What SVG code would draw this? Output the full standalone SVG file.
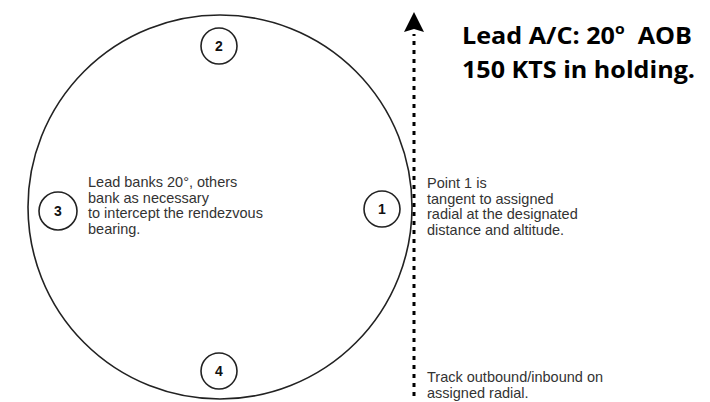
<svg xmlns="http://www.w3.org/2000/svg" width="710" height="402" viewBox="0 0 710 402">
<style>
.orbit{fill:none;stroke:#222;stroke-width:1.6}
.pt{fill:#fff;stroke:#222;stroke-width:1.6}
.num{font-family:"Liberation Sans",Arial,sans-serif;font-weight:bold;font-size:14px;fill:#111;text-anchor:middle}
.note{font-family:"Liberation Sans",Arial,sans-serif;font-size:14.5px;fill:#333}
.title{font-family:"Open Sans","Liberation Sans",sans-serif;font-weight:bold;font-size:24px;fill:#000}
.track{fill:none;stroke:#000;stroke-width:3;stroke-dasharray:4 5}
</style>
<rect width="710" height="402" fill="#fff"/>
<g id="orbit">
<circle class="orbit" cx="220" cy="207" r="192"/>
</g>
<g id="connectors">
<line class="track" x1="414" y1="396" x2="414" y2="34"/>
<path d="M414,12 L424,32 L414,29 L404,32 Z" fill="#000"/>
</g>
<g id="point2">
<circle class="pt" cx="219" cy="46" r="18"/>
<text class="num" x="219" y="51">2</text>
</g>
<g id="point3">
<circle class="pt" cx="58" cy="211" r="19"/>
<text class="num" x="58" y="216">3</text>
</g>
<g id="point1">
<circle class="pt" cx="382" cy="209" r="18"/>
<text class="num" x="382" y="214">1</text>
</g>
<g id="point4">
<circle class="pt" cx="219" cy="371" r="18"/>
<text class="num" x="219" y="376">4</text>
</g>
<g id="note-lead">
<text class="note" x="88" y="187">Lead banks 20°, others</text>
<text class="note" x="88" y="202.5">bank as necessary</text>
<text class="note" x="88" y="218">to intercept the rendezvous</text>
<text class="note" x="88" y="233.5">bearing.</text>
</g>
<g id="note-point1">
<text class="note" x="427" y="188">Point 1 is</text>
<text class="note" x="427" y="203.5">tangent to assigned</text>
<text class="note" x="427" y="219">radial at the designated</text>
<text class="note" x="427" y="234.5">distance and altitude.</text>
</g>
<g id="note-track">
<text class="note" x="427" y="381.5">Track outbound/inbound on</text>
<text class="note" x="427" y="397.5">assigned radial.</text>
</g>
<g id="title">
<text class="title" x="462" y="44" xml:space="preserve" textLength="230" lengthAdjust="spacingAndGlyphs">Lead A/C: 20<tspan font-size="15" dy="-10">o</tspan><tspan dy="10">  AOB</tspan></text>
<text class="title" x="462" y="78" textLength="233" lengthAdjust="spacingAndGlyphs">150 KTS in holding.</text>
</g>
</svg>
